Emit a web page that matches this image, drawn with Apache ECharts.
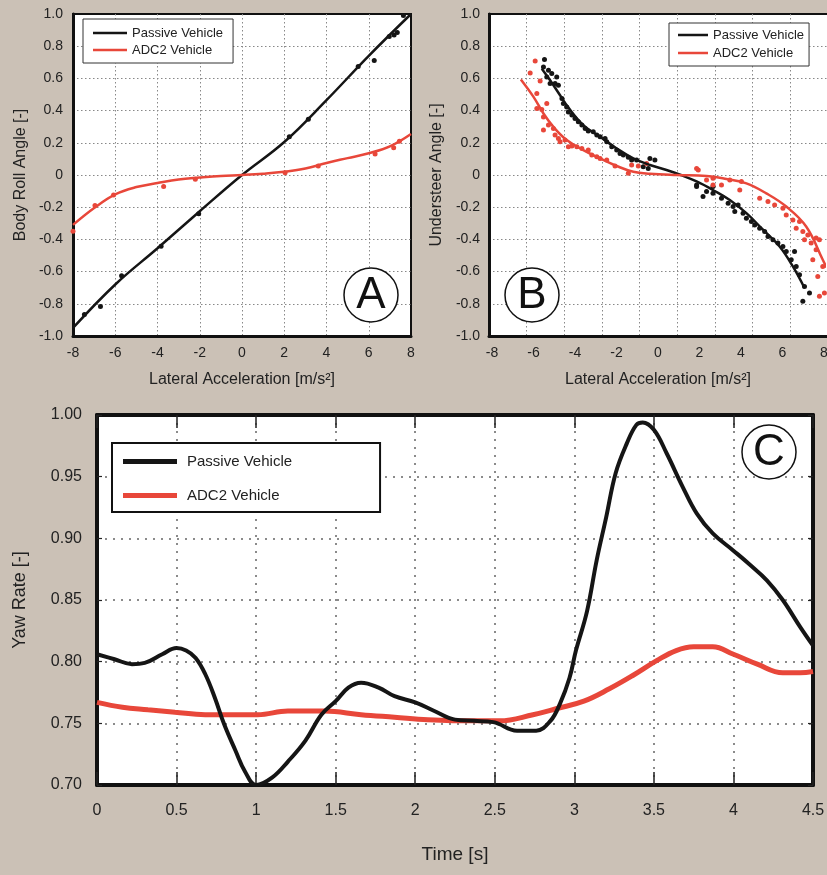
<!DOCTYPE html>
<html>
<head>
<meta charset="utf-8">
<script src="https://cdn.jsdelivr.net/npm/echarts@6/dist/echarts.min.js"></script>
<style>
html,body{margin:0;padding:0;background:#cbc1b6;}
#chart{width:827px;height:875px;}
</style>
</head>
<body>
<div id="chart"></div>
<script>
// ---------- Panel A: Body Roll Angle vs Lateral Acceleration ----------
const aPassiveFit = [[-8,-0.95],[-6,-0.68],[-4,-0.455],[-2,-0.225],[0,0],[2,0.205],[4,0.465],[6,0.74],[8,1.0]];
const aAdc2Fit = [[-8,-0.31],[-7,-0.205],[-6,-0.12],[-5,-0.075],[-4,-0.05],[-3,-0.028],[-2,-0.016],[-1,-0.006],[0,0],[1,0.008],[2,0.02],[3,0.04],[4,0.075],[5,0.105],[6,0.135],[7,0.178],[8,0.255]];
const aPassivePts = [[-7.46,-0.866],[-6.7,-0.816],[-5.7,-0.625],[-3.83,-0.443],[-2.05,-0.241],[2.24,0.237],[3.14,0.346],[5.5,0.674],[6.26,0.711],[6.97,0.86],[7.2,0.87],[7.35,0.885],[7.64,0.99]];
const aAdc2Pts = [[-8.0,-0.35],[-6.96,-0.19],[-6.08,-0.124],[-3.71,-0.072],[-2.21,-0.027],[2.04,0.014],[3.61,0.056],[6.3,0.13],[7.18,0.17],[7.45,0.21]];

// ---------- Panel B: Understeer Angle vs Lateral Acceleration ----------
const bPassiveFit = [[-5.6,0.66],[-5.2,0.588],[-4.72,0.495],[-4.4,0.433],[-3.6,0.31],[-2.79,0.237],[-1.99,0.165],[-1.19,0.103],[-0.39,0.062],[0.41,0.031],[1.1,0.0],[1.86,-0.04],[2.65,-0.093],[3.46,-0.155],[4.26,-0.237],[5.06,-0.34],[5.86,-0.444],[6.5,-0.568],[7.06,-0.702]];
const bAdc2Fit = [[-6.61,0.593],[-6.0,0.485],[-5.52,0.382],[-5.04,0.299],[-4.4,0.217],[-3.6,0.155],[-2.79,0.103],[-1.99,0.056],[-1.19,0.02],[-0.39,0.008],[0.89,0.0],[2.34,-0.006],[3.3,-0.025],[4.26,-0.052],[5.22,-0.114],[6.18,-0.196],[7.14,-0.32],[7.94,-0.526],[8.12,-0.575]];
const bPassivePts = [[-5.47,0.718],[-5.52,0.671],[-5.28,0.65],[-5.36,0.609],[-5.12,0.63],[-4.88,0.609],[-5.2,0.568],[-4.96,0.568],[-4.8,0.557],[-4.63,0.475],[-4.56,0.444],[-4.4,0.423],[-4.32,0.392],[-4.15,0.372],[-4.0,0.351],[-3.84,0.33],[-3.67,0.31],[-3.51,0.289],[-3.36,0.274],[-3.12,0.268],[-2.95,0.248],[-2.79,0.237],[-2.55,0.227],[-2.47,0.206],[-2.23,0.175],[-1.99,0.155],[-1.83,0.134],[-1.67,0.124],[-1.43,0.11],[-1.27,0.093],[-1.03,0.093],[-0.71,0.051],[-0.39,0.103],[-0.15,0.093],[-0.47,0.041],[1.86,-0.062],[2.65,-0.072],[1.86,-0.072],[2.17,-0.134],[2.34,-0.103],[2.65,-0.113],[3.06,-0.144],[3.38,-0.175],[3.62,-0.196],[3.86,-0.186],[3.7,-0.227],[4.1,-0.237],[4.26,-0.268],[4.5,-0.289],[4.66,-0.31],[4.9,-0.33],[5.14,-0.351],[5.3,-0.382],[5.54,-0.402],[5.78,-0.423],[6.02,-0.444],[6.18,-0.475],[6.58,-0.475],[6.42,-0.526],[6.66,-0.568],[6.82,-0.619],[7.06,-0.692],[7.3,-0.733],[6.98,-0.784]];
const bAdc2Pts = [[-5.92,0.708],[-6.16,0.633],[-5.68,0.584],[-5.84,0.506],[-5.36,0.444],[-5.84,0.413],[-5.6,0.407],[-5.52,0.361],[-5.28,0.31],[-5.52,0.279],[-5.04,0.289],[-4.96,0.248],[-4.8,0.227],[-4.72,0.206],[-4.48,0.217],[-4.32,0.175],[-4.15,0.18],[-3.91,0.175],[-3.67,0.165],[-3.36,0.155],[-3.19,0.124],[-2.95,0.113],[-2.79,0.103],[-2.47,0.093],[-2.07,0.056],[-1.43,0.011],[-1.27,0.062],[-0.95,0.056],[-0.55,0.072],[1.94,0.031],[2.65,-0.02],[1.86,0.041],[2.34,-0.031],[2.65,-0.062],[3.06,-0.062],[3.46,-0.031],[4.02,-0.041],[3.94,-0.093],[4.9,-0.144],[5.3,-0.165],[5.62,-0.186],[6.02,-0.206],[6.18,-0.248],[6.5,-0.279],[6.82,-0.289],[6.66,-0.33],[6.98,-0.351],[7.22,-0.372],[7.06,-0.402],[7.38,-0.423],[7.62,-0.392],[7.78,-0.402],[7.62,-0.464],[7.46,-0.526],[7.94,-0.568],[7.7,-0.63],[8.02,-0.733],[7.78,-0.753]];

// ---------- Panel C: Yaw Rate vs Time ----------
const cPassive = [[0,0.806],[0.11,0.802],[0.22,0.798],[0.30,0.799],[0.41,0.806],[0.50,0.811],[0.56,0.809],[0.62,0.803],[0.68,0.790],[0.74,0.771],[0.80,0.749],[0.87,0.728],[0.93,0.711],[1.0,0.700],[1.10,0.706],[1.20,0.719],[1.31,0.736],[1.41,0.757],[1.50,0.768],[1.58,0.779],[1.66,0.783],[1.77,0.779],[1.87,0.772],[2.0,0.767],[2.12,0.760],[2.25,0.753],[2.37,0.752],[2.49,0.751],[2.64,0.744],[2.76,0.744],[2.85,0.752],[2.91,0.766],[2.97,0.787],[3.01,0.809],[3.08,0.841],[3.14,0.882],[3.20,0.917],[3.26,0.953],[3.33,0.977],[3.39,0.992],[3.43,0.994],[3.50,0.988],[3.58,0.969],[3.68,0.942],[3.77,0.920],[3.87,0.904],[4.0,0.890],[4.10,0.879],[4.21,0.866],[4.31,0.850],[4.42,0.828],[4.5,0.813]];
const cAdc2 = [[0,0.767],[0.16,0.763],[0.32,0.761],[0.49,0.759],[0.68,0.757],[1.01,0.757],[1.2,0.760],[1.43,0.760],[1.66,0.757],[1.87,0.755],[2.08,0.753],[2.37,0.752],[2.53,0.752],[2.74,0.757],[2.89,0.762],[3.06,0.768],[3.22,0.778],[3.37,0.789],[3.52,0.801],[3.64,0.809],[3.75,0.812],[3.87,0.812],[4.0,0.806],[4.15,0.798],[4.31,0.791],[4.42,0.791],[4.5,0.792]];

const seriesNames = ['Passive Vehicle', 'ADC2 Vehicle'];
const xNameAB = 'Lateral Acceleration [m/s\u00B2]';

const BLACK = '#151515', RED = '#e8473a';
const FONT = "'Liberation Sans', Arial, sans-serif";
const dotGridAB = {show:true, showMinLine:false, showMaxLine:false, lineStyle:{color:'#888', type:[1.5,2.5], width:1}};
const dotGridC = {show:true, showMinLine:false, showMaxLine:false, lineStyle:{color:'#666', type:[2,6], width:1.5}};
const txt = (s) => ({fontSize:s, color:'#222', fontFamily:FONT});
const frameLine = (w) => ({show:true, onZero:false, lineStyle:{color:'#111', width:w}});

const chart = echarts.init(document.getElementById('chart'));
const option = {
  animation:false,
  backgroundColor:'#cbc1b6',
  textStyle:{fontFamily:FONT},
  grid:[
    {left:73, top:14, width:338, height:322, show:true, backgroundColor:'#fff', borderColor:'#111', borderWidth:2, outerBoundsMode:'none'},
    {left:492, top:14, width:332, height:322, show:false, outerBoundsMode:'none'},
    {left:489, top:14, width:339, height:322, show:true, backgroundColor:'#fff', borderColor:'#111', borderWidth:2, outerBoundsMode:'none'},
    {left:97, top:415, width:716, height:370, show:true, backgroundColor:'#fff', borderColor:'#111', borderWidth:0, outerBoundsMode:'none'}
  ],
  xAxis:[
    {gridIndex:0, type:'value', min:-8, max:8, interval:2,
     axisLine:frameLine(3), axisTick:{show:false},
     axisLabel:Object.assign({margin:10, showMinLabel:true, showMaxLabel:true}, txt(14)),
     splitLine:dotGridAB,
     name:xNameAB, nameLocation:'middle', nameGap:36, nameTextStyle:txt(16)},
    {gridIndex:1, type:'value', min:-8, max:8, interval:2,
     axisLine:{show:false}, axisTick:{show:false}, splitLine:{show:false},
     axisLabel:Object.assign({margin:10, showMinLabel:true, showMaxLabel:true}, txt(14)),
     name:xNameAB, nameLocation:'middle', nameGap:36, nameTextStyle:txt(16)},
    {gridIndex:2, type:'value', min:0, max:9, interval:1,
     axisLine:frameLine(3), axisTick:{show:false}, axisLabel:{show:false},
     splitLine:dotGridAB},
    {gridIndex:3, type:'value', min:0, max:4.5, interval:0.5,
     axisLine:frameLine(4), axisTick:{show:true, inside:true, length:13, lineStyle:{color:'#222', width:1.5}},
     axisLabel:Object.assign({margin:18, showMinLabel:true, showMaxLabel:true}, txt(16)),
     splitLine:dotGridC,
     name:'Time [s]', nameLocation:'middle', nameGap:60, nameTextStyle:txt(19)},
    {gridIndex:3, type:'value', position:'top', min:0, max:4.5, interval:0.5,
     axisLine:frameLine(4), axisTick:{show:true, inside:true, length:13, lineStyle:{color:'#222', width:1.5}},
     axisLabel:{show:false}, splitLine:{show:false}}
  ],
  yAxis:[
    {gridIndex:0, type:'value', min:-1, max:1, interval:0.2,
     axisLine:frameLine(3), axisTick:{show:false},
     axisLabel:Object.assign({margin:10, showMinLabel:true, showMaxLabel:true, formatter:v => Math.abs(v)<1e-9 ? '0' : v.toFixed(1)}, txt(14)),
     splitLine:dotGridAB,
     name:'Body Roll Angle [-]', nameLocation:'middle', nameGap:44, nameTextStyle:txt(16)},
    {gridIndex:1, type:'value', min:-1, max:1, show:false},
    {gridIndex:2, type:'value', min:-1, max:1, interval:0.2,
     axisLine:frameLine(3), axisTick:{show:false},
     axisLabel:Object.assign({margin:9, showMinLabel:true, showMaxLabel:true, formatter:v => Math.abs(v)<1e-9 ? '0' : v.toFixed(1)}, txt(14)),
     splitLine:dotGridAB,
     name:'Understeer Angle [-]', nameLocation:'middle', nameGap:44, nameTextStyle:txt(16)},
    {gridIndex:3, type:'value', min:0.7, max:1.0, interval:0.05,
     axisLine:frameLine(4), axisTick:{show:true, inside:true, length:5, lineStyle:{color:'#222', width:1.2}},
     axisLabel:Object.assign({margin:15, showMinLabel:true, showMaxLabel:true, formatter:v => v.toFixed(2)}, txt(16)),
     splitLine:dotGridC,
     name:'Yaw Rate [-]', nameLocation:'middle', nameGap:68, nameTextStyle:txt(18)},
    {gridIndex:3, type:'value', position:'right', min:0.7, max:1.0, interval:0.05,
     axisLine:frameLine(4), axisTick:{show:true, inside:true, length:5, lineStyle:{color:'#222', width:1.2}},
     axisLabel:{show:false}, splitLine:{show:false}}
  ],
  legend:[
    {data:seriesNames, orient:'vertical', left:83, top:19, icon:'rect', itemWidth:34, itemHeight:2.5, itemGap:3,
     padding:[7,10,6,10], borderColor:'#333', borderWidth:1, backgroundColor:'#fff', borderRadius:0,
     textStyle:{fontSize:13, lineHeight:14, color:'#222', fontFamily:FONT}},
    {data:seriesNames, orient:'vertical', left:669, top:23, icon:'rect', itemWidth:30, itemHeight:2.5, itemGap:4,
     padding:[5,5,6,9], borderColor:'#333', borderWidth:1, backgroundColor:'#fff', borderRadius:0,
     textStyle:{fontSize:13, lineHeight:14, color:'#222', fontFamily:FONT}},
    {data:seriesNames, orient:'vertical', left:112, top:443, icon:'rect', itemWidth:54, itemHeight:5, itemGap:19,
     padding:[11,88,9,11], borderColor:'#111', borderWidth:2, backgroundColor:'#fff', borderRadius:0,
     textStyle:{fontSize:15, lineHeight:15, color:'#222', fontFamily:FONT, padding:[0,0,0,5]}}
  ],
  graphic:[
    {type:'circle', shape:{cx:371, cy:295, r:27}, style:{fill:'#fff', stroke:'#111', lineWidth:1.5}, z:100},
    {type:'text', x:371, y:296, style:{text:'A', font:'44px '+FONT, fill:'#111', textAlign:'center', textVerticalAlign:'middle'}, z:101},
    {type:'circle', shape:{cx:532, cy:295, r:27}, style:{fill:'#fff', stroke:'#111', lineWidth:1.5}, z:100},
    {type:'text', x:532, y:296, style:{text:'B', font:'44px '+FONT, fill:'#111', textAlign:'center', textVerticalAlign:'middle'}, z:101},
    {type:'circle', shape:{cx:769, cy:452, r:27}, style:{fill:'#fff', stroke:'#111', lineWidth:1.5}, z:100},
    {type:'text', x:769, y:453, style:{text:'C', font:'44px '+FONT, fill:'#111', textAlign:'center', textVerticalAlign:'middle'}, z:101}
  ],
  series:[
    // A
    {name:'Passive Vehicle', type:'line', xAxisIndex:0, yAxisIndex:0, data:aPassiveFit, smooth:0.4, symbol:'none', color:BLACK, lineStyle:{color:BLACK, width:2.5}},
    {name:'ADC2 Vehicle', type:'line', xAxisIndex:0, yAxisIndex:0, data:aAdc2Fit, smooth:0.4, symbol:'none', color:RED, lineStyle:{color:RED, width:2.5}},
    {name:'A passive data', type:'scatter', xAxisIndex:0, yAxisIndex:0, data:aPassivePts, symbolSize:5, itemStyle:{color:BLACK, opacity:1}, clip:false},
    {name:'A adc2 data', type:'scatter', xAxisIndex:0, yAxisIndex:0, data:aAdc2Pts, symbolSize:5, itemStyle:{color:RED, opacity:1}, clip:false},
    // B
    {name:'B passive data', type:'scatter', xAxisIndex:1, yAxisIndex:1, data:bPassivePts, symbolSize:5, itemStyle:{color:BLACK, opacity:1}, clip:false},
    {name:'B adc2 data', type:'scatter', xAxisIndex:1, yAxisIndex:1, data:bAdc2Pts, symbolSize:5, itemStyle:{color:RED, opacity:1}, clip:false},
    {name:'Passive Vehicle', type:'line', xAxisIndex:1, yAxisIndex:1, data:bPassiveFit, smooth:0.4, symbol:'none', color:BLACK, lineStyle:{color:BLACK, width:2.5}, clip:false},
    {name:'ADC2 Vehicle', type:'line', xAxisIndex:1, yAxisIndex:1, data:bAdc2Fit, smooth:0.4, symbol:'none', color:RED, lineStyle:{color:RED, width:2.5}, clip:false},
    // C
    {name:'ADC2 Vehicle', type:'line', xAxisIndex:3, yAxisIndex:3, data:cAdc2, smooth:0.4, symbol:'none', color:RED, lineStyle:{color:RED, width:5}},
    {name:'Passive Vehicle', type:'line', xAxisIndex:3, yAxisIndex:3, data:cPassive, smooth:0.4, symbol:'none', color:BLACK, lineStyle:{color:BLACK, width:4}}
  ]
};
chart.setOption(option);
</script>
</body>
</html>
